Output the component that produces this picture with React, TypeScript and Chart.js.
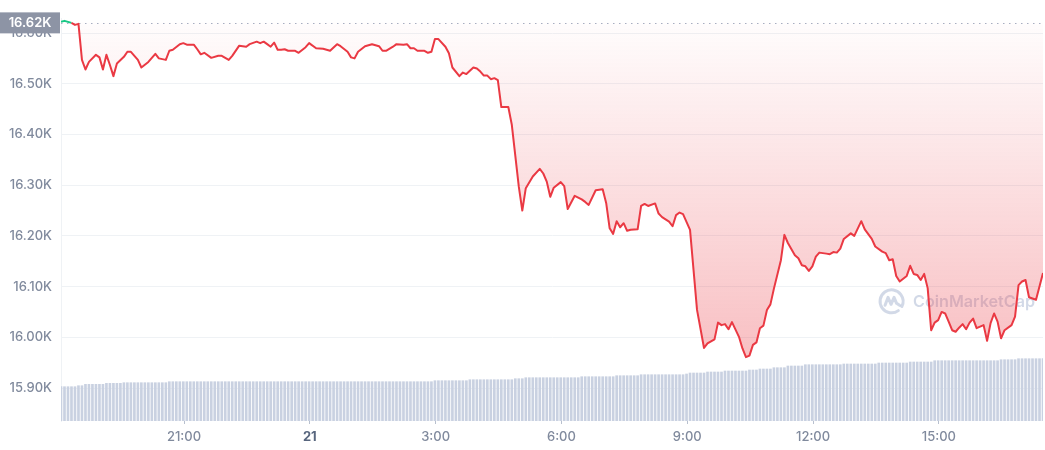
import React, { useEffect, useRef } from "react";
import { Chart, registerables } from "chart.js";

Chart.register(...registerables);

// Time axis: minutes since 20 Nov 00:00, one sample slot every 5 minutes
const START_MIN = 1084; // 20 Nov 18:04
const END_MIN = 2489; // 21 Nov 17:29
const SLOT_MIN = 5;

const BASELINE = 16620;
const BASELINE_LABEL = "16.62K";

const yTickValues = [15900, 16000, 16100, 16200, 16300, 16400, 16500, 16600];
const xTickMinutes = [1260, 1440, 1620, 1800, 1980, 2160, 2340];
const xTickLabels = ["21:00", "21", "3:00", "6:00", "9:00", "12:00", "15:00"];

// Price samples (slot index, USD)
const priceSlots = [
  0, 1, 3, 4, 5, 6, 7, 8, 10, 11,
  12, 13, 14, 15, 16, 18, 19, 20, 22, 23,
  25, 27, 28, 30, 31, 32, 34, 35, 36, 38,
  39, 40, 41, 43, 45, 46, 48, 49, 51, 53,
  54, 56, 57, 58, 59, 60, 61, 62, 63, 64,
  65, 67, 68, 70, 71, 73, 75, 77, 79, 80,
  82, 83, 84, 85, 87, 89, 91, 92, 93, 95,
  96, 98, 99, 100, 101, 102, 104, 105, 106, 107,
  108, 110, 111, 112, 114, 115, 116, 118, 119, 120,
  121, 122, 123, 124, 125, 126, 128, 129, 131, 132,
  133, 135, 137, 138, 139, 140, 141, 143, 144, 145,
  147, 149, 150, 151, 153, 155, 156, 157, 158, 159,
  160, 161, 162, 163, 165, 166, 167, 168, 170, 171,
  172, 174, 175, 176, 177, 178, 180, 181, 182, 184,
  185, 187, 188, 189, 190, 191, 192, 194, 195, 196,
  197, 198, 199, 200, 201, 202, 203, 204, 206, 207,
  208, 210, 211, 212, 213, 214, 215, 216, 217, 219,
  220, 221, 222, 223, 224, 226, 227, 229, 230, 232,
  233, 235, 236, 237, 238, 239, 240, 242, 243, 244,
  245, 246, 247, 248, 249, 250, 251, 252, 253, 254,
  255, 256, 257, 258, 259, 260, 261, 262, 264, 265,
  266, 267, 268, 269, 270, 272, 273, 274, 275, 276,
  277, 279, 281,
];

const prices = [
  16622, 16624, 16620, 16616, 16618, 16547, 16528, 16543, 16557, 16552,
  16528, 16557, 16537, 16515, 16540, 16553, 16563, 16563, 16547, 16532,
  16543, 16559, 16550, 16547, 16565, 16567, 16578, 16580, 16577, 16577,
  16568, 16558, 16561, 16551, 16555, 16555, 16547, 16555, 16575, 16573,
  16578, 16583, 16580, 16583, 16578, 16573, 16581, 16567, 16567, 16568,
  16565, 16565, 16561, 16572, 16580, 16570, 16569, 16565, 16578, 16574,
  16563, 16552, 16550, 16563, 16574, 16578, 16574, 16565, 16565, 16573,
  16578, 16577, 16578, 16570, 16570, 16565, 16565, 16561, 16563, 16588,
  16588, 16573, 16560, 16532, 16515, 16522, 16519, 16532, 16530, 16524,
  16516, 16516, 16509, 16511, 16507, 16454, 16454, 16419, 16297, 16250,
  16294, 16317, 16332, 16323, 16307, 16277, 16295, 16306, 16298, 16253,
  16279, 16272, 16267, 16261, 16290, 16292, 16265, 16215, 16204, 16229,
  16217, 16225, 16210, 16212, 16213, 16259, 16263, 16259, 16264, 16244,
  16237, 16228, 16219, 16241, 16246, 16243, 16212, 16133, 16054, 15979,
  15988, 15996, 16029, 16024, 16026, 16016, 16030, 16001, 15978, 15961,
  15964, 15985, 15990, 16018, 16023, 16054, 16065, 16096, 16152, 16202,
  16186, 16162, 16156, 16142, 16140, 16131, 16140, 16159, 16167, 16165,
  16164, 16168, 16167, 16175, 16194, 16205, 16200, 16229, 16213, 16194,
  16179, 16169, 16166, 16152, 16154, 16121, 16110, 16121, 16141, 16125,
  16123, 16113, 16125, 16097, 16014, 16029, 16034, 16050, 16047, 16031,
  16014, 16011, 16019, 16026, 16016, 16029, 16037, 16018, 16024, 15993,
  16028, 16047, 16031, 15998, 16014, 16024, 16041, 16103, 16110, 16113,
  16079, 16074, 16127,
];

// 24h volume (billion USD), one bar per 5-minute slot
const volumes = [
  17.15, 17.15, 17.15, 17.15, 17.15, 17.65, 17.65, 18.35, 18.35, 18.35, 18.35, 18.35, 18.35,
  18.85, 18.85, 18.85, 18.85, 18.85, 19.15, 19.15, 19.15, 19.15, 19.15, 19.15, 19.15, 19.15, 19.15, 19.15, 19.15, 19.15, 19.15,
  19.65, 19.65, 19.65, 19.65, 19.65, 19.65, 19.65, 19.65, 19.65, 19.65, 19.65, 19.65, 19.65, 19.65, 19.65, 19.65, 19.65, 19.65, 19.65,
  19.65, 19.65, 19.65, 19.65, 19.65, 19.65, 19.65, 19.65, 19.65, 19.65, 19.65, 19.65, 19.65, 19.65, 19.65, 19.65, 19.65, 19.65, 19.65,
  19.65, 19.65, 19.65, 19.65, 19.65, 19.65, 19.65, 19.65, 19.65, 19.65, 19.65, 19.65, 19.65, 19.65, 19.65, 19.65, 19.65, 19.65, 19.65,
  19.65, 19.65, 19.65, 19.65, 19.65, 19.65, 19.65, 19.65, 19.65, 19.65, 19.65, 19.65, 19.65, 19.65, 19.65, 19.65, 19.65, 19.65, 19.65,
  20.15, 20.15, 20.15, 20.15, 20.15, 20.15, 20.15, 20.15, 20.15, 20.15,
  20.65, 20.65, 20.65, 20.65, 20.65, 20.65, 20.65, 20.65, 20.65, 20.65, 20.65, 20.65, 20.65,
  21.15, 21.15, 21.15, 21.65, 21.65, 21.65, 21.65, 21.65, 21.65, 21.65, 21.65, 21.65, 21.65, 21.65, 21.65, 21.65, 21.65, 21.65, 21.65,
  22.15, 22.15, 22.15, 22.15, 22.15, 22.15, 22.15, 22.15, 22.15, 22.15, 22.65, 22.65, 22.65, 22.65, 22.65, 22.65, 22.65,
  23.15, 23.15, 23.15, 23.15, 23.15, 23.15, 23.15, 23.15, 23.15, 23.15, 23.15, 23.15, 23.15, 23.5,
  24.0, 24.0, 24.0, 24.0, 24.0, 24.5, 24.5, 24.5, 24.5, 24.5, 25.0, 25.0, 25.0, 25.0, 25.0, 25.0, 25.0,
  25.5, 25.5, 25.5, 26.0, 26.0, 26.0, 26.0, 26.65, 26.65, 26.65, 26.65, 27.5, 27.5, 27.5, 27.5, 27.5,
  28.15, 28.15, 28.15, 28.15, 28.15, 28.15, 28.15, 28.15, 28.15, 28.15, 28.15, 28.5, 28.5, 28.5, 28.5, 28.5, 28.5, 28.5, 28.5, 28.5, 28.5,
  29.0, 29.0, 29.0, 29.0, 29.0, 29.0, 29.0, 29.0, 29.0, 29.5, 29.5, 29.5, 29.5, 29.5, 29.5, 29.5,
  30.15, 30.15, 30.15, 30.15, 30.15, 30.15, 30.15, 30.15, 30.15, 30.15, 30.15, 30.15, 30.15, 30.15, 30.15, 30.15, 30.15, 30.15, 30.15,
  30.65, 30.65, 30.65, 30.65, 30.65, 31.15, 31.15, 31.15, 31.15, 31.15, 31.15, 31.15, 31.15,
];

const RED = "#ea3943";
const GREEN = "#16c784";
const FONT = "Inter, 'Noto Sans', sans-serif";
const WATERMARK = "CoinMarketCap";

const overlayPlugin = {
  id: "cmcOverlay",
  beforeDatasetsDraw(chart: any) {
    const { ctx, chartArea: ca, scales } = chart;
    const yb = scales.y.getPixelForValue(BASELINE);
    // watermark
    ctx.save();
    ctx.font = `600 20px ${FONT}`;
    const w20 = ctx.measureText(WATERMARK).width;
    const size = (20 * 122) / w20;
    ctx.font = `600 ${size.toFixed(2)}px ${FONT}`;
    const tw = ctx.measureText(WATERMARK).width;
    const right = ca.right - 8;
    const left = right - tw;
    const cy = ca.top + (ca.bottom - ca.top) * 0.703;
    ctx.fillStyle = "rgba(160,176,204,0.48)";
    ctx.strokeStyle = "rgba(160,176,204,0.48)";
    ctx.textBaseline = "middle";
    ctx.textAlign = "left";
    ctx.fillText(WATERMARK, left, cy + 1);
    const lx = left - 21.5;
    ctx.lineWidth = 3;
    ctx.lineCap = "round";
    ctx.lineJoin = "round";
    ctx.beginPath();
    ctx.arc(lx, cy, 11.5, Math.PI * 0.3, Math.PI * 2.15);
    ctx.stroke();
    ctx.beginPath();
    ctx.moveTo(lx - 6.5, cy + 4);
    ctx.lineTo(lx - 3.5, cy - 4);
    ctx.lineTo(lx - 0.5, cy + 3);
    ctx.lineTo(lx + 2.5, cy - 4);
    ctx.lineTo(lx + 5, cy + 2);
    ctx.lineTo(lx + 8, cy + 4);
    ctx.stroke();
    ctx.restore();
    // dotted open-price line
    ctx.save();
    ctx.strokeStyle = "#a6b0c3";
    ctx.lineWidth = 1;
    ctx.setLineDash([1.5, 4.5]);
    ctx.beginPath();
    ctx.moveTo(ca.left, Math.round(yb) + 0.5);
    ctx.lineTo(ca.right, Math.round(yb) + 0.5);
    ctx.stroke();
    ctx.restore();
  },
  afterDraw(chart: any) {
    const { ctx, chartArea: ca, scales } = chart;
    const yb = scales.y.getPixelForValue(BASELINE);
    ctx.save();
    ctx.fillStyle = "#8d94a5";
    ctx.fillRect(0, yb - 10.5, ca.left - 1, 21);
    ctx.fillStyle = "#ffffff";
    ctx.font = `600 13px ${FONT}`;
    ctx.textAlign = "center";
    ctx.textBaseline = "middle";
    ctx.fillText(BASELINE_LABEL, (ca.left - 1) / 2, yb + 0.5);
    ctx.restore();
  },
};

export default function App() {
  const ref = useRef<HTMLCanvasElement>(null);
  useEffect(() => {
    const canvas = ref.current;
    if (!canvas) return;
    const linePts = priceSlots.map((s, i) => ({ x: START_MIN + s * SLOT_MIN, y: prices[i] }));
    const volPts = volumes.map((v, i) => ({ x: START_MIN + i * SLOT_MIN, y: v }));
    const minPrice = Math.min(...prices);

    const chart = new Chart(canvas, {
      type: "line",
      data: {
        datasets: [
          {
            type: "line",
            data: linePts,
            yAxisID: "y",
            borderColor: RED,
            borderWidth: 2,
            borderJoinStyle: "round",
            pointRadius: 0,
            tension: 0,
            order: 0,
            fill: { target: { value: BASELINE } },
            backgroundColor: (c: any) => {
              const ch = c.chart;
              if (!ch.chartArea || !ch.scales.y) return "rgba(234,57,67,0.1)";
              const top = ch.scales.y.getPixelForValue(BASELINE);
              const bot = ch.scales.y.getPixelForValue(minPrice);
              const g = ch.ctx.createLinearGradient(0, top, 0, bot);
              g.addColorStop(0, "rgba(234,57,67,0.01)");
              g.addColorStop(1, "rgba(234,57,67,0.32)");
              return g;
            },
            segment: {
              borderColor: (s: any) =>
                s.p0.parsed.y >= BASELINE && s.p1.parsed.y >= BASELINE ? GREEN : RED,
            },
          } as any,
          {
            type: "bar",
            data: volPts,
            yAxisID: "yv",
            backgroundColor: "#c9d1e1",
            barThickness: 2,
            order: 1,
          } as any,
        ],
      },
      options: {
        responsive: false,
        animation: false,
        events: [],
        layout: { padding: { top: 18, right: 2, left: 0, bottom: 0 } },
        plugins: { legend: { display: false }, tooltip: { enabled: false } },
        scales: {
          x: {
            type: "linear",
            min: START_MIN,
            max: END_MIN,
            offset: false,
            afterBuildTicks: (s: any) => {
              s.ticks = xTickMinutes.map((v) => ({ value: v }));
            },
            afterFit: (s: any) => {
              s.height = 29;
            },
            grid: {
              offset: false,
              drawOnChartArea: false,
              drawTicks: true,
              tickLength: 3,
              color: "#b8c0ce",
            },
            border: { display: false },
            ticks: {
              autoSkip: false,
              maxRotation: 0,
              padding: 5,
              callback: (_v: any, i: number) => xTickLabels[i],
              color: (c: any) => (c.index === 1 ? "#58667e" : "#808a9d"),
              font: (c: any) => ({ family: FONT, size: 13, weight: c.index === 1 ? "700" : "500" }),
            },
          },
          y: {
            type: "linear",
            position: "left",
            min: 15835,
            max: 16629.6,
            afterBuildTicks: (s: any) => {
              s.ticks = yTickValues.map((v) => ({ value: v }));
            },
            afterFit: (s: any) => {
              s.width = 61;
            },
            grid: { color: "#eff2f5", drawTicks: false },
            border: { display: true, color: "#eff2f5" },
            ticks: {
              padding: 9,
              color: "#808a9d",
              font: { family: FONT, size: 13, weight: "500" },
              callback: (v: any) => (Number(v) / 1000).toFixed(2) + "K",
            },
          },
          yv: {
            type: "linear",
            display: false,
            min: 0,
            max: 201.5,
          },
        },
      },
      plugins: [overlayPlugin],
    } as any);
    return () => chart.destroy();
  }, []);

  return (
    <div style={{ position: "fixed", left: 0, top: 0, width: 1045, height: 450, background: "#fff" }}>
      <canvas ref={ref} width={1045} height={450} />
    </div>
  );
}
